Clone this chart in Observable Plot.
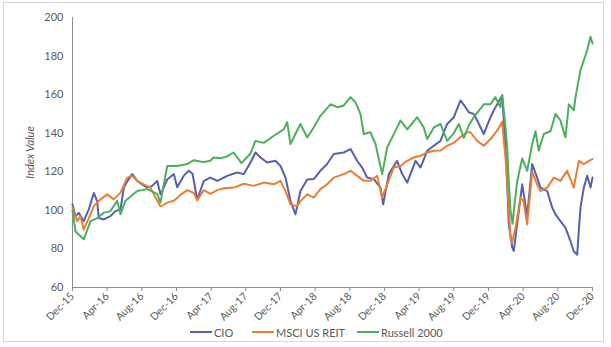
<!DOCTYPE html>
<html>
<head>
<meta charset="utf-8">
<script src="https://cdn.jsdelivr.net/npm/d3@7"></script>
<script src="https://cdn.jsdelivr.net/npm/@observablehq/plot@0.6"></script>
<style>
  body { margin: 0; background: #fff; }
  #wrap { position: relative; width: 611px; height: 347px; font-family: Lato, "Liberation Sans", sans-serif; }
  #frame { position: absolute; left: 3px; top: 2px; width: 601px; height: 340px; border: 1px solid #d9d9d9; box-sizing: border-box; }
  #chart { position: absolute; left: 0; top: 0; }
  .leg { position: absolute; top: 325px; height: 14px; display: flex; align-items: center; font-size: 11px; color: #595959; white-space: nowrap; }
  .leg span.sw { display: inline-block; width: 22px; height: 2px; margin-right: 2px; }
</style>
</head>
<body>
<div id="wrap">
  <div id="frame"></div>
  <div id="chart"></div>
  <div id="legend"></div>
</div>
<script>
// Months since Dec-15 and index values
const tickMonths = [0,4,8,12,16,20,24,28,32,36,40,44,48,52,56,60];
const tickLabels = ["Dec-15","Apr-16","Aug-16","Dec-16","Apr-17","Aug-17","Dec-17","Apr-18","Aug-18","Dec-18","Apr-19","Aug-19","Dec-19","Apr-20","Aug-20","Dec-20"];
const yTicks = [60,80,100,120,140,160,180,200];

const seriesNames = ["CIO","MSCI US REIT","Russell 2000"];
const seriesColors = ["#5660b2","#ed7d31","#4cb05a"];

const cioMonths = [0,0.35,0.73,1.3,1.88,2.46,2.85,3.03,3.61,4.38,4.96,5.54,5.92,6.31,6.89,7.47,8.04,8.62,9.2,9.77,10.15,10.53,10.93,11.69,12.08,12.84,13.42,13.85,14.39,15.15,15.92,16.7,17.85,19.0,19.76,20.54,21.11,21.69,22.46,23.42,24.0,24.58,25.15,25.73,26.3,27.08,27.84,28.6,29.38,30.15,31.3,32.08,32.85,33.42,34.0,34.76,35.54,35.85,36.5,37.46,38.04,38.62,39.58,40.15,40.93,41.69,42.46,43.23,44.0,44.77,45.34,45.72,46.3,46.69,47.46,48.23,48.8,49.58,49.96,50.15,50.34,50.73,50.92,51.31,51.89,52.46,53.04,53.61,54.0,54.77,55.35,55.73,56.3,56.88,57.46,57.84,58.23,58.61,59.0,59.39,59.77,60];
const cioValues = [103,97,98.7,94.4,100.5,109,104.8,96,95.3,97,99.6,100.5,111.8,115,118.8,115.3,113.5,111.8,112.7,115.3,108.3,111.8,116,118.8,112,118,120.5,119,105.5,115.3,117,115.3,117.9,119.6,118.8,124.8,130,127.4,124.8,125.7,123,117,104.8,97.9,110,116,116.2,120.5,124,129.2,130,131.8,125.7,122.2,117,116.2,111.8,103.1,118.8,125.7,118.8,114.4,125.7,122.2,130.9,133.5,136,144.8,148.3,157,153.5,150.9,150,146.6,139.6,148.3,153.5,159.6,132.6,115.3,92.7,81,79,93,113.5,97,124,117,111.8,110,101.4,97.9,94.4,91,84,78.8,77,101.4,111.8,117.9,111.8,117];

const reitMonths = [0,0.54,0.92,1.3,1.88,2.46,3.23,4.0,4.77,5.54,6.31,6.89,7.47,8.23,9.0,9.58,10.15,10.93,11.69,12.46,13.23,14.0,14.39,15.15,15.92,16.7,17.46,18.61,19.76,20.92,22.07,23.23,24.0,24.58,25.15,25.92,26.3,27.08,27.84,28.6,29.38,30.15,31.3,32.08,32.85,33.61,34.38,35.15,35.73,36.31,37.07,37.84,38.62,39.38,40.15,40.93,41.69,42.46,43.23,44.0,44.77,45.54,45.92,46.69,47.46,48.23,49.0,49.58,49.77,49.96,50.34,50.54,50.71,51.12,51.69,52.04,52.46,53.04,53.61,54.0,54.77,55.54,56.3,57.07,57.84,58.42,59.0,59.58,60];
const reitValues = [101.4,94.4,97,90,96,102.2,105.7,108.3,105.7,109.2,117,117.9,115.3,113.5,111.8,106.6,102,104,105,108,110.5,109,105.2,110.5,108.5,110.5,111.5,111.8,113.8,112.7,114.4,113.5,115.3,110,103.1,102.2,104.8,108.3,106.6,111,113.5,117,118.8,120.5,117.9,115.3,115.3,117.9,106.6,113.5,122.2,123,125.7,127.4,128.3,130,130.9,131,133.5,135,138,140.5,140.5,136,133.5,137,141.3,146,136,127.4,101.4,85.7,83,91,106.6,104.8,92.7,120,113.5,110,111.8,117,115.3,120.5,111.8,125.7,124,125.7,126.6];

const russellMonths = [0,0.35,1.3,2.08,2.85,3.58,4.38,5.16,5.54,6.12,7.47,8.62,9.77,10.15,10.93,11.3,12.08,13.23,14.0,15.1,15.9,16.27,17.1,17.85,18.58,19.5,20.54,21.1,22.07,23.23,24.38,24.77,25.15,26.3,27.08,27.84,28.6,29.77,30.54,31.3,32.08,32.65,33.23,33.6,34.38,34.96,35.73,36.31,37.46,37.85,38.62,39.77,40.53,40.93,41.69,42.46,43.23,44.0,44.57,45.15,45.72,46.3,47.46,48.23,48.8,49.38,49.58,49.96,50.15,50.34,50.54,50.77,51.0,51.31,51.89,52.46,53.04,53.42,53.8,54.38,55.15,55.73,56.3,56.88,57.27,57.84,58.04,58.61,59.0,59.39,59.77,60];
const russellValues = [100,89,85,94.4,96,98.7,99.6,105,98,105,110,111,108.5,104,123,123,123,124,126,125,125.7,127.4,127,128,130,124.5,129.5,136,135,138.7,142,145.7,134.4,144.8,137.8,143,149,155,153.5,154.4,158.7,156,150,139.6,140.5,134.4,118.8,132.6,143,146.6,142,148.3,143,137,143,144.8,136,140,144.8,137.5,144,148.3,155,155,158.7,153.5,159.6,143,132.6,115,100,93,103,115,127,120.5,134.4,141,131,139.6,141,150,146.6,137.8,155,151.8,158.7,172.6,177.8,183,190,186.5];

const table = [
  ...cioMonths.map((m, i) => ({series: seriesNames[0], month: m, value: cioValues[i]})),
  ...reitMonths.map((m, i) => ({series: seriesNames[1], month: m, value: reitValues[i]})),
  ...russellMonths.map((m, i) => ({series: seriesNames[2], month: m, value: russellValues[i]}))
];

const chart = Plot.plot({
  width: 611,
  height: 322,
  marginLeft: 72,
  marginRight: 19,
  marginTop: 17,
  marginBottom: 35,
  style: {fontFamily: "Lato, 'Liberation Sans', sans-serif", fontSize: "11px", color: "#595959", background: "transparent"},
  x: {domain: [0, 60]},
  y: {domain: [60, 200]},
  color: {domain: seriesNames, range: seriesColors},
  marks: [
    Plot.axisY({ticks: yTicks, tickSize: 0, tickPadding: 9, label: "Index Value", labelAnchor: "center", labelArrow: "none", labelOffset: 46, fontSize: 11, fill: "#595959"}),
    Plot.axisX({ticks: tickMonths, tickFormat: (d, i) => tickLabels[tickMonths.indexOf(d)], tickRotate: -45, tickSize: 4, tickPadding: 3, label: null, fontSize: 10.5, fill: "#595959", stroke: "#8c8c8c"}),
    Plot.ruleY([60], {stroke: "#8c8c8c", strokeWidth: 1}),
    Plot.ruleX([0], {stroke: "#8c8c8c", strokeWidth: 1}),
    Plot.line(table, {x: "month", y: "value", z: "series", stroke: "series", strokeWidth: 2, curve: "linear"})
  ]
});
document.getElementById("chart").appendChild(chart);
// italicize the y label
chart.querySelectorAll("g[aria-label='y-axis label'] text").forEach(t => t.setAttribute("font-style", "italic"));

const legendLeft = [190, 252, 357];
const legend = document.getElementById("legend");
seriesNames.forEach((name, i) => {
  const d = document.createElement("div");
  d.className = "leg";
  d.style.left = legendLeft[i] + "px";
  d.innerHTML = `<span class="sw" style="background:${seriesColors[i]}"></span><span>${name}</span>`;
  legend.appendChild(d);
});
</script>
</body>
</html>
